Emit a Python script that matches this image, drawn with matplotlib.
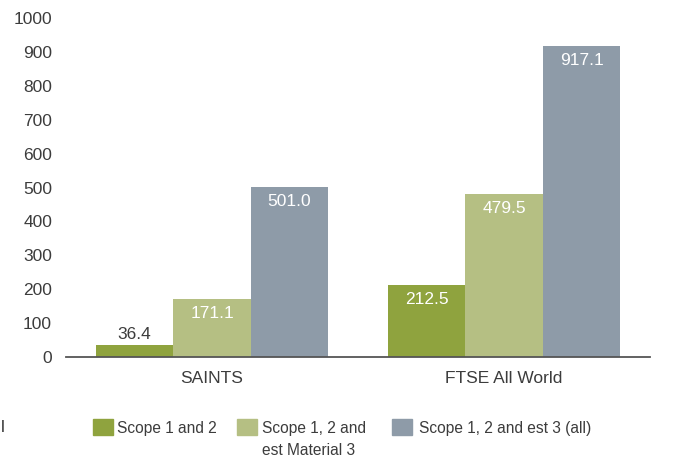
import matplotlib
matplotlib.use("Agg")
import matplotlib.pyplot as plt
from matplotlib.patches import Rectangle
import numpy as np

categories = ["SAINTS", "FTSE All World"]
series_names = ["Scope 1 and 2", "Scope 1, 2 and\nest Material 3", "Scope 1, 2 and est 3 (all)"]
scope12 = [36.4, 212.5]
scope12_mat3 = [171.1, 479.5]
scope12_all3 = [501.0, 917.1]
yticks = [0, 100, 200, 300, 400, 500, 600, 700, 800, 900, 1000]

colors = ["#8fa33e", "#b5bf83", "#8e9ba8"]
text_color = "#3c3c3c"

plt.rcParams['font.family'] = ['Liberation Sans', 'DejaVu Sans']

W, H = 691, 458
fig = plt.figure(figsize=(W / 100, H / 100), dpi=100)
ax = fig.add_axes([66 / W, 1 - 357 / H, (650 - 66) / W, (357 - 18) / H])

x = np.arange(len(categories))
bw = 0.2655
all_series = [scope12, scope12_mat3, scope12_all3]
for i, (vals, c) in enumerate(zip(all_series, colors)):
    bars = ax.bar(x + (i - 1) * bw, vals, width=bw, color=c, zorder=2)
    for b, v in zip(bars, vals):
        cx = b.get_x() + b.get_width() / 2
        if v < 60:
            ax.annotate(f"{v:.1f}", (cx, v), xytext=(0, 2), textcoords="offset points",
                        ha="center", va="bottom", fontsize=12.5, color=text_color)
        else:
            ax.annotate(f"{v:.1f}", (cx, v), xytext=(0, -5), textcoords="offset points",
                        ha="center", va="top", fontsize=12.5, color="white")

ax.set_xlim(-0.5, 1.5)
ax.set_ylim(0, 1000)
ax.set_yticks(yticks)
ax.set_yticklabels([str(t) for t in yticks])
ax.set_xticks(x)
ax.set_xticklabels(categories)
ax.tick_params(axis="y", length=0, pad=10, labelsize=12.5, labelcolor=text_color)
ax.tick_params(axis="x", length=0, pad=10, labelsize=12.5, labelcolor=text_color)
for s in ["top", "right", "left"]:
    ax.spines[s].set_visible(False)
ax.spines["bottom"].set_color("#555555")
ax.spines["bottom"].set_linewidth(1.3)
ax.spines["bottom"].set_zorder(3)

# legend (manual placement)
handle_x = [93, 237, 392]
text_x = [117, 262, 419]
baseline0 = 433
line_step = 22
for hx, tx, c, name in zip(handle_x, text_x, colors, series_names):
    fig.patches.append(Rectangle((hx / W, 1 - 435 / H), 20 / W, 16 / H,
                                 transform=fig.transFigure, color=c, figure=fig))
    for k, line in enumerate(name.split("\n")):
        fig.text(tx / W, 1 - (baseline0 + k * line_step) / H, line, ha="left",
                 va="baseline", fontsize=11.2, color=text_color)
fig.text(1 / W, 1 - 427 / H, "l", ha="left", va="center", fontsize=12.5, color=text_color)

fig.savefig("out.png", dpi=100)
